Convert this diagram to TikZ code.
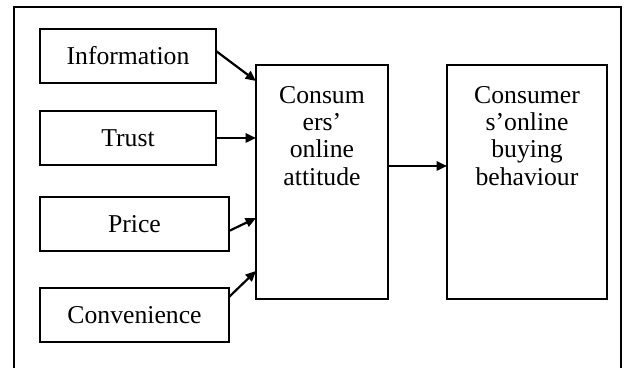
\documentclass[tikz,border=0pt]{standalone}
\usepackage{fontspec}
\setmainfont{Liberation Serif}
\usetikzlibrary{arrows.meta,calc}

\tikzset{
  box/.style={draw, line width=0.7pt, inner sep=0pt, outer sep=0pt,
    font=\fontsize{12.85}{13.4}\selectfont},
  tallbox/.style={box, minimum height=117pt},
  arr/.style={-{Triangle[length=5.2pt,width=4.6pt]}, line width=1.1pt}
}

\begin{document}
\begin{tikzpicture}[x=0.5pt, y=-0.5pt]

\useasboundingbox (0,0) rectangle (627,368);
\draw[line width=0.7pt] (14,380) -- (14,7) -- (621,7) -- (621,380);

% factors
\node[box, minimum width=88pt, minimum height=27pt] (info) at (128,56) {Information};
\node[box, minimum width=88pt, minimum height=27pt] (trust) at (128,138) {Trust};
\node[box, minimum width=94.5pt, minimum height=27pt] (price) at (134.5,224) {Price};
\node[box, minimum width=94.5pt, minimum height=27pt] (conv) at (134.5,315) {Convenience};

% attitude and behaviour
\node[tallbox, minimum width=66pt,
  label={[below, align=center, yshift=-7pt, font=\fontsize{12.85}{13.7}\selectfont]north:Consum\\ers’\\online\\attitude}]
  (attitude) at (322,182) {};
\node[tallbox, minimum width=80pt,
  label={[below, align=center, yshift=-7pt, font=\fontsize{12.85}{13.7}\selectfont]north:Consumer\\s’online\\buying\\behaviour}]
  (behaviour) at (527,182) {};

\draw[arr] ($(info.east)+(0,-5)$) -- ($(attitude.north west)+(0,16)$);
\draw[arr] (trust.east) -- ($(attitude.north west)+(0,73)$);
\draw[arr] ($(price.east)+(0,7)$) -- ($(attitude.north west)+(0,153)$);
\draw[arr] ($(conv.north east)+(0,9)$) -- ($(attitude.north west)+(0,206)$);
\draw[arr] ($(attitude.north east)+(0,101)$) -- ($(behaviour.north west)+(0,101)$);

\end{tikzpicture}
\end{document}
